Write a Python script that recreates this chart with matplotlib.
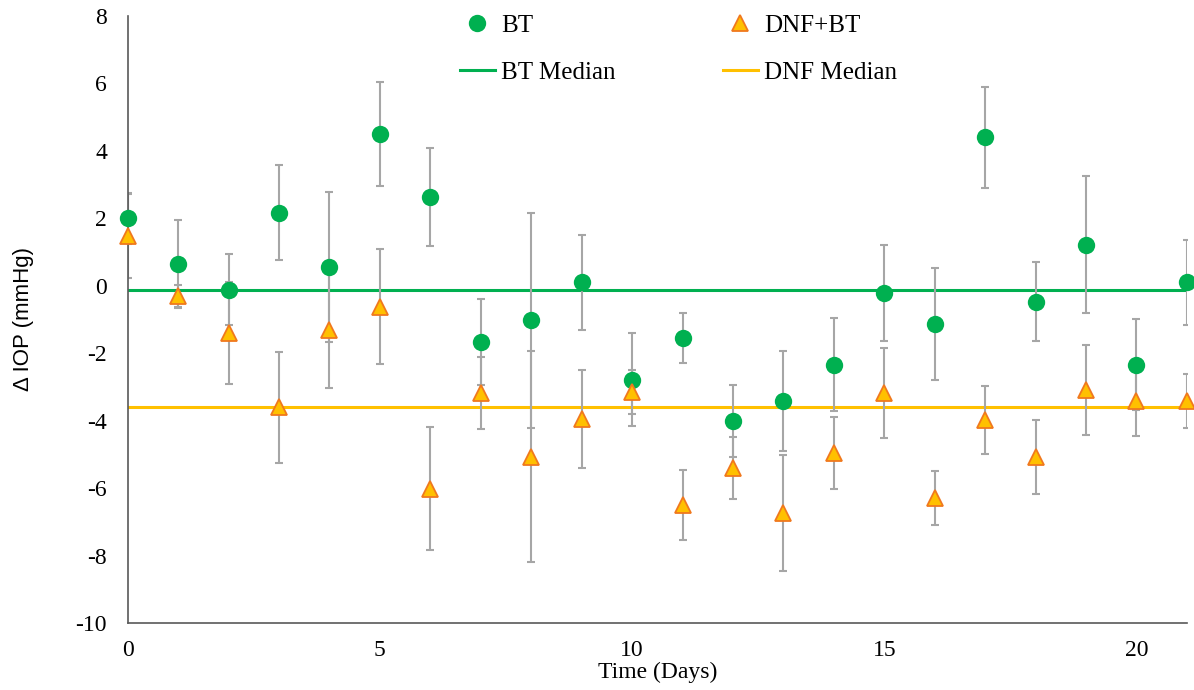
import matplotlib.pyplot as plt

plt.rcParams['axes.unicode_minus'] = False

days = list(range(22))

bt = [2.0, 0.65, -0.12, 2.17, 0.56, 4.5, 2.64, -1.66, -1.03, 0.1, -2.78,
      -1.55, -4.0, -3.42, -2.34, -0.21, -1.13, 4.4, -0.47, 1.22, -2.34, 0.1]
bt_err = [0.75, 1.3, 1.05, 1.4, 2.23, 1.55, 1.45, 1.27, 3.19, 1.4, 1.38,
          0.73, 1.07, 1.49, 1.37, 1.42, 1.65, 1.5, 1.17, 2.03, 1.34, 1.27]

dnf = [1.48, -0.3, -1.4, -3.6, -1.31, -0.62, -6.02, -3.18, -5.07, -3.95, -3.15,
       -6.5, -5.4, -6.74, -4.96, -3.18, -6.29, -3.98, -5.07, -3.09, -3.42, -3.42]
dnf_err = [1.25, 0.33, 1.5, 1.65, 1.72, 1.7, 1.82, 1.06, 3.13, 1.45, 0.65,
           1.05, 0.92, 1.72, 1.07, 1.33, 0.8, 1.0, 1.1, 1.32, 1.03, 0.8]

bt_median = -0.12
dnf_median = -3.6

green = '#00B050'
yellow = '#FFC000'
orange_edge = '#F0781E'
grey = '#A6A6A6'

fig = plt.figure(figsize=(11.94, 6.9), dpi=100)
ax = fig.add_axes([0.107, 0.097, 0.887, 0.88])

# median lines
ax.axhline(bt_median, color=green, lw=2.2, zorder=1, label='BT Median')
ax.axhline(dnf_median, color=yellow, lw=2.2, zorder=1, label='DNF Median')

# error bars
ax.errorbar(days, bt, yerr=bt_err, fmt='none', ecolor=grey, elinewidth=1.5,
            capsize=3, capthick=1.5, zorder=2)
ax.errorbar(days, dnf, yerr=dnf_err, fmt='none', ecolor=grey, elinewidth=1.5,
            capsize=3, capthick=1.5, zorder=2)

# markers
ax.plot(days, bt, 'o', color=green, markersize=12.5, markeredgewidth=0,
        zorder=3, label='BT', clip_on=False)
ax.plot(days, dnf, '^', markerfacecolor=yellow, markeredgecolor=orange_edge,
        markeredgewidth=1.3, markersize=11.5, zorder=4, label='DNF+BT', clip_on=False)

ax.set_xlim(0, 21)
ax.set_ylim(-10, 8)
ax.set_xticks([0, 5, 10, 15, 20])
ax.set_yticks(range(-10, 9, 2))
ax.tick_params(length=0, labelsize=17)
ax.tick_params(axis='x', pad=12)
ax.tick_params(axis='y', pad=15)
for lab in ax.get_xticklabels() + ax.get_yticklabels():
    lab.set_family('Liberation Serif')

for s in ['top', 'right']:
    ax.spines[s].set_visible(False)
for s in ['left', 'bottom']:
    ax.spines[s].set_color('#595959')
    ax.spines[s].set_linewidth(1.2)

ax.set_xlabel('Time (Days)', family='Liberation Serif', fontsize=17, labelpad=1)
ax.set_ylabel('Δ IOP (mmHg)', family='Liberation Sans', fontsize=16, labelpad=30)

handles, labels = ax.get_legend_handles_labels()
order = [labels.index(k) for k in ['BT', 'BT Median', 'DNF+BT', 'DNF Median']]
ax.legend([handles[i] for i in order], [labels[i] for i in order],
          ncol=2, loc='upper center', bbox_to_anchor=(0.52, 1.04),
          frameon=False, prop={'family': 'Liberation Serif', 'size': 18},
          handlelength=1.4, handletextpad=0.25, columnspacing=4.3,
          labelspacing=1.0, markerscale=1.0)

fig.savefig('out.png', dpi=100)
